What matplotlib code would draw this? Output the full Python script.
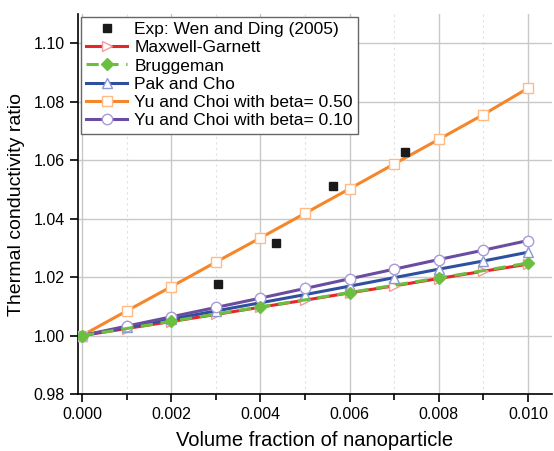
import numpy as np
from matplotlib import pyplot as plt
from matplotlib.ticker import MultipleLocator

plt.rcParams['font.family'] = ['Liberation Sans', 'DejaVu Sans']

# 体积分数
phi = [0.000, 0.001, 0.002, 0.003, 0.004, 0.005, 0.006, 0.007, 0.008, 0.009, 0.010]

maxwell = [1.0000, 1.0024, 1.0048, 1.0072, 1.0097, 1.0121, 1.0146, 1.0170, 1.0195, 1.0220, 1.0244]
bruggeman = [1.0000, 1.0024, 1.0049, 1.0073, 1.0098, 1.0122, 1.0147, 1.0172, 1.0197, 1.0222, 1.0248]
pak_cho = [1.0000, 1.0028, 1.0056, 1.0084, 1.0112, 1.0140, 1.0169, 1.0198, 1.0227, 1.0255, 1.0285]
yu_050 = [1.0000, 1.0084, 1.0167, 1.0251, 1.0334, 1.0418, 1.0502, 1.0587, 1.0671, 1.0756, 1.0846]
yu_010 = [1.0000, 1.0032, 1.0064, 1.0096, 1.0128, 1.0161, 1.0194, 1.0227, 1.0260, 1.0292, 1.0325]

# 实验数据
exp_x = [0.00305, 0.00435, 0.00563, 0.00724]
exp_y = [1.0178, 1.0318, 1.0510, 1.0627]

fig = plt.figure(figsize=(5.54, 4.51), dpi=100)
ax = fig.add_axes([78 / 554, 57 / 451, (552 - 78) / 554, (394 - 14) / 451])

ax.plot(exp_x, exp_y, 's', color='#1a1a1a', ms=6, ls='none',
        label='Exp: Wen and Ding (2005)', zorder=6)
ax.plot(phi, maxwell, '-', color='#e8262a', lw=2.2, marker='>', ms=7.5,
        mfc='white', mec='#f59a9a', mew=1, label='Maxwell-Garnett', zorder=3)
ax.plot(phi, bruggeman, '--', color='#6abf3f', lw=2.2, dashes=(4, 2.5), marker='D', ms=6.5,
        mfc='#6abf3f', mec='#6abf3f', markevery=2, label='Bruggeman', zorder=4)
ax.plot(phi, pak_cho, '-', color='#2f4fa0', lw=2.2, marker='^', ms=7.5,
        mfc='white', mec='#8a9ad0', mew=1, label='Pak and Cho', zorder=3)
ax.plot(phi, yu_050, '-', color='#f5862a', lw=2.2, marker='s', ms=7.5,
        mfc='white', mec='#ffba85', mew=1, label='Yu and Choi with beta= 0.50', zorder=3)
ax.plot(phi, yu_010, '-', color='#6a4ca0', lw=2.2, marker='o', ms=7.5,
        mfc='white', mec='#a99ad8', mew=1, label='Yu and Choi with beta= 0.10', zorder=3)

ax.set_xlim(-0.00009, 0.01054)
ax.set_ylim(0.98, 1.11)
ax.xaxis.set_major_locator(MultipleLocator(0.002))
ax.xaxis.set_minor_locator(MultipleLocator(0.001))
ax.set_yticks([0.98, 1.00, 1.02, 1.04, 1.06, 1.08, 1.10])
ax.xaxis.set_major_formatter(plt.FormatStrFormatter('%.3f'))
ax.yaxis.set_major_formatter(plt.FormatStrFormatter('%.2f'))

ax.grid(True, which='major', color='#c8c8c8', lw=1)
ax.grid(True, which='minor', axis='x', color='#e0e0e0', lw=0.8, ls=(0, (2, 3)))
ax.set_axisbelow(True)

ax.spines['top'].set_visible(False)
ax.spines['right'].set_visible(False)
ax.spines['left'].set_linewidth(1.2)
ax.spines['bottom'].set_linewidth(1.2)
ax.tick_params(which='major', direction='out', length=6, width=1.2, labelsize=11.5)
ax.tick_params(which='minor', direction='out', length=4, width=1.2)

ax.set_xlabel('Volume fraction of nanoparticle', fontsize=14.5, labelpad=6)
ax.set_ylabel('Thermal conductivity ratio', fontsize=14, labelpad=6)

leg = ax.legend(loc='upper left', fontsize=12.5, frameon=True, fancybox=False,
                edgecolor='#666666', framealpha=1, borderaxespad=0.15,
                handlelength=2.4, handletextpad=0.4, labelspacing=0.18,
                borderpad=0.3)
leg.get_frame().set_linewidth(1)

fig.savefig('out.png', dpi=100)
